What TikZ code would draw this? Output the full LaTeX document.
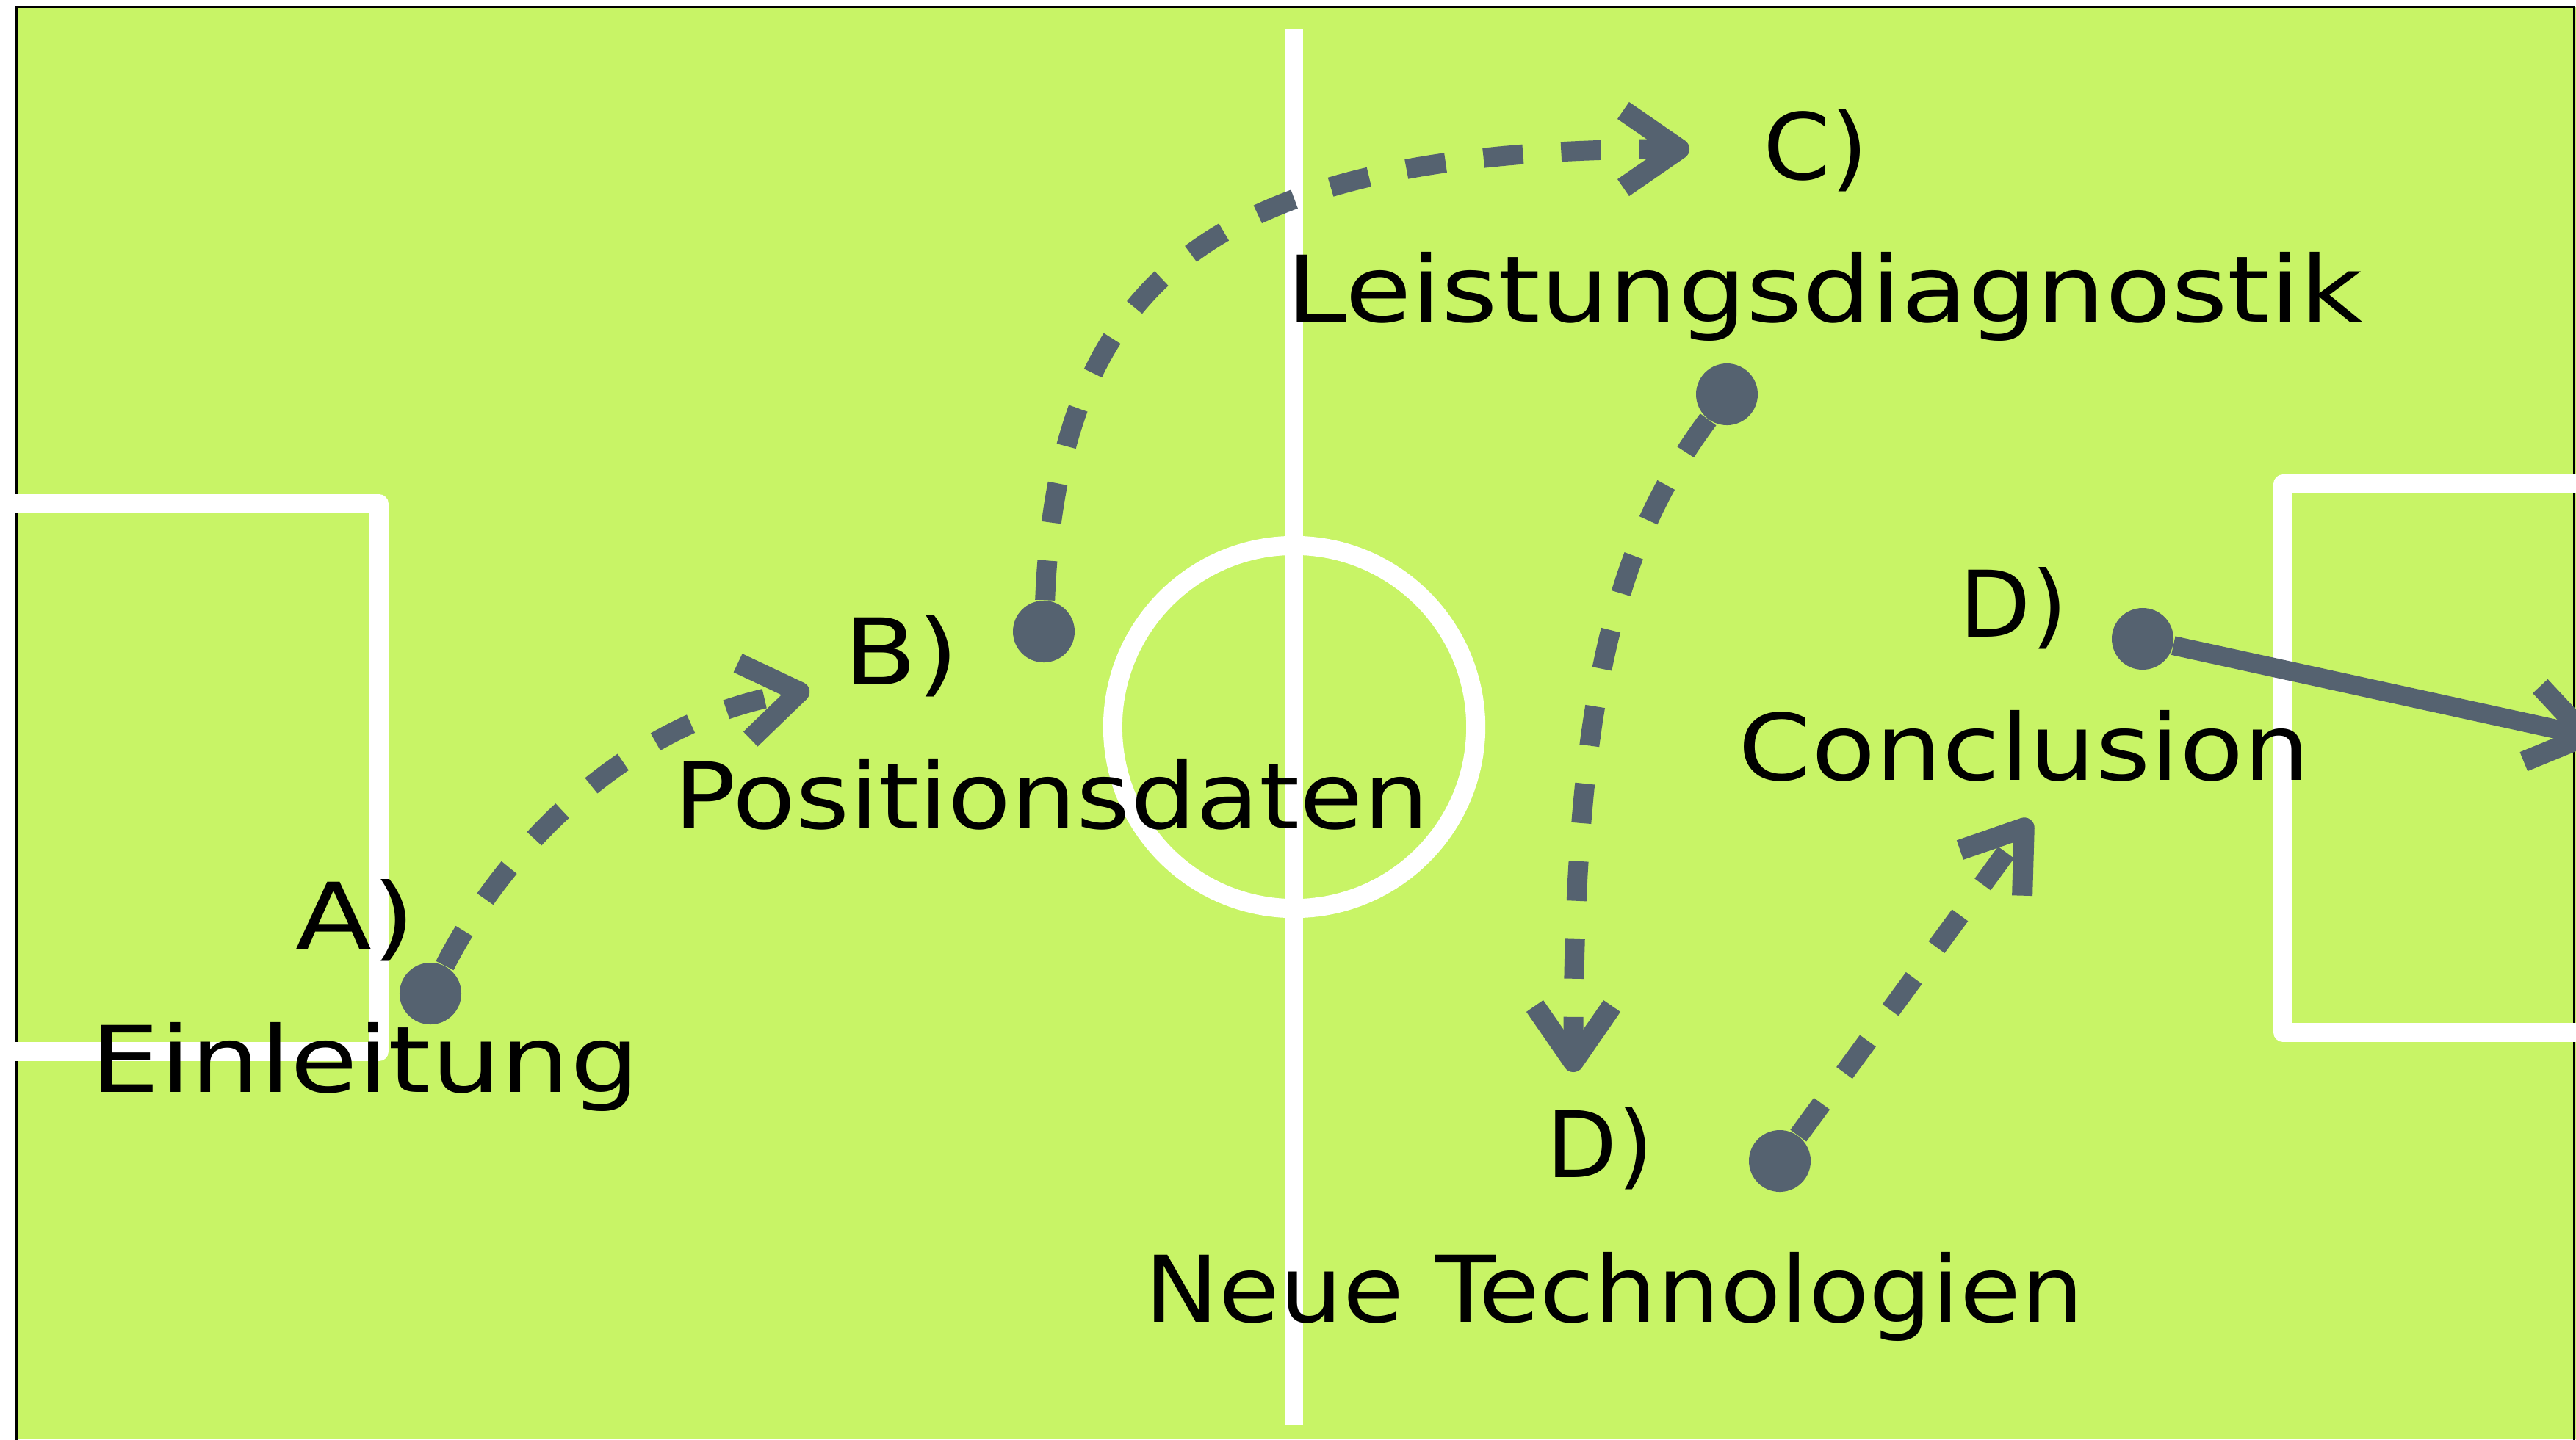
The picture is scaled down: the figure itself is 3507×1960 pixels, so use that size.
\documentclass[tikz,border=0pt]{standalone}
\usepackage{graphicx}
\usepackage{fontspec}
\setmainfont{DejaVu Sans}
\usetikzlibrary{arrows.meta}
\definecolor{field}{RGB}{200,244,102}
\definecolor{ink}{RGB}{85,98,112}
\newcommand{\fitto}[2]{\resizebox{#1}{\height}{#2}}
\begin{document}
\begin{tikzpicture}[x=0.01cm,y=-0.01cm,
  pitchline/.style={draw=white,line width=0.26cm,line join=round},
  midline/.style={draw=white,line width=0.24cm},
  barbtip/.style={-{Straight Barb[length=0.76cm,width=1.05cm,line width=0.28cm,line join=round]}},
  dashline/.style={draw=ink,line width=0.27cm,dash pattern=on 0.54cm off 0.52cm,barbtip},
  solidline/.style={draw=ink,line width=0.26cm,barbtip},
  dot/.style={circle,fill=ink,minimum size=0.84cm,inner sep=0pt},
  lbl/.style={anchor=base west,inner sep=0pt,font=\fontsize{35.6pt}{40pt}\selectfont,text=black}]
\useasboundingbox (0,0) rectangle (3507,1960);
\clip (0,0) rectangle (3507,1960);
% field
\fill[field] (23,9) rectangle (3507,1960);
\draw[black,line width=0.03cm] (23,1975) -- (23,9) -- (3504,9) -- (3504,1975);
% pitch markings
\draw[pitchline] (20,686) -- (516,686) -- (516,1432) -- (20,1432);
\draw[pitchline] (3510,659) -- (3108,659) -- (3108,1406) -- (3510,1406);
\draw[pitchline] (1762,990) circle[radius=2.47cm];
\draw[midline] (1762,40) -- (1762,1940);
% dots
\node[dot] (dA) at (586,1353) {};
\node[dot] (dB) at (1421,860) {};
\node[dot] (dC) at (2351,537) {};
\node[dot] (dD1) at (2423,1581) {};
\node[dot] (dD2) at (2917,870) {};
% arrow ends
\coordinate (eB) at (1102,940);
\coordinate (eC) at (2300,203);
\coordinate (eD) at (2142,1460);
\coordinate (eE) at (2764,1116);
\coordinate (eF) at (3535,1005);
% connectors
\draw[dashline] (dA) .. controls (690,1150) and (860,980) .. (eB);
\draw[dashline] (dB) .. controls (1440,380) and (1650,203) .. (eC);
\draw[dashline] (dC) .. controls (2200,740) and (2142,950) .. (eD);
\draw[dashline] (dD1) -- (eE);
\draw[solidline] (dD2) -- (eF);
% labels
\node[lbl] (lA) at (402,1292) {\fitto{1.63cm}{A)}};
\node[lbl] (tA) at (123,1487) {\fitto{7.47cm}{Einleitung}};
\node[lbl] (lB) at (1148,932) {\fitto{1.57cm}{B)}};
\node[lbl] (tB) at (917,1128) {\fitto{10.27cm}{Positionsdaten}};
\node[lbl] (lC) at (2400,244) {\fitto{1.43cm}{C)}};
\node[lbl] (tC) at (1751,438) {\fitto{14.64cm}{Leistungsdiagnostik}};
\node[lbl] (lD1) at (2667,867) {\fitto{1.47cm}{D)}};
\node[lbl] (tD1) at (2366,1062) {\fitto{7.78cm}{Conclusion}};
\node[lbl] (lD2) at (2105,1603) {\fitto{1.45cm}{D)}};
\node[lbl] (tD2) at (1558,1800) {\fitto{12.77cm}{Neue Technologien}};
\end{tikzpicture}
\end{document}
